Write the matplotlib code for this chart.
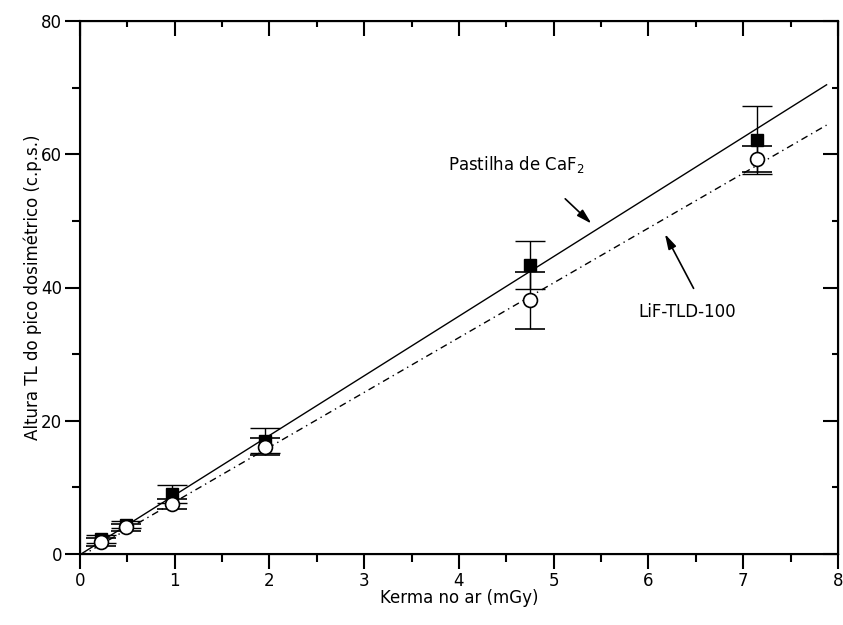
import matplotlib
matplotlib.use("Agg")
import matplotlib.pyplot as plt
import numpy as np
from matplotlib.ticker import MultipleLocator

plt.rcParams['font.family'] = ['DejaVu Sans']

kerma = [0.22, 0.49, 0.97, 1.95, 4.75, 7.15]
caf2 = [2.2, 4.4, 9.0, 17.0, 43.4, 62.1]
caf2_err = [0.6, 0.5, 1.4, 1.9, 3.6, 5.1]
lif = [1.8, 4.0, 7.5, 16.1, 38.1, 59.3]
lif_err = [0.6, 0.5, 0.7, 1.3, 4.3, 2.0]

caf2_fit = (8.95, -0.1)   # slope, intercept
lif_fit = (8.22, -0.4)
fit_x = [0.0, 7.88]

fig = plt.figure(figsize=(8.43, 6.25), dpi=100)
ax = fig.add_axes([0.0949, 0.1136, 0.8991, 0.8528])

fx = np.array(fit_x)
ax.plot(fx, caf2_fit[0] * fx + caf2_fit[1], color='black', lw=1.0, zorder=2)
ax.plot(fx, lif_fit[0] * fx + lif_fit[1], color='black', lw=1.0,
        dashes=(5, 3, 1, 3), zorder=2)

ax.errorbar(kerma, caf2, yerr=caf2_err, fmt='s', color='black', mfc='black',
            mec='black', ms=9, capsize=11, elinewidth=1, capthick=1, zorder=3)
ax.errorbar(kerma, lif, yerr=lif_err, fmt='o', color='black', mfc='white',
            mec='black', ms=10, mew=1.2, capsize=11, elinewidth=1, capthick=1,
            zorder=4)

ax.set_xlim(0, 8)
ax.set_ylim(0, 80)
ax.xaxis.set_major_locator(MultipleLocator(1))
ax.xaxis.set_minor_locator(MultipleLocator(0.5))
ax.yaxis.set_major_locator(MultipleLocator(20))
ax.yaxis.set_minor_locator(MultipleLocator(10))

ax.tick_params(which='both', direction='out', top=False, right=False,
               labelsize=12, width=1.5)
ax.tick_params(which='major', length=11, pad=2)
ax.tick_params(which='minor', length=6)
for s in ax.spines.values():
    s.set_linewidth(1.5)

ax2 = ax.twinx()
ax2.set_ylim(0, 80)
ax2.yaxis.set_major_locator(MultipleLocator(20))
ax2.yaxis.set_minor_locator(MultipleLocator(10))
ax2.tick_params(which='both', direction='in', labelright=False, width=1.5)
ax2.tick_params(which='major', length=11)
ax2.tick_params(which='minor', length=4)
ax3 = ax.twiny()
ax3.set_xlim(0, 8)
ax3.xaxis.set_major_locator(MultipleLocator(1))
ax3.xaxis.set_minor_locator(MultipleLocator(0.5))
ax3.tick_params(which='both', direction='in', labeltop=False, width=1.5)
ax3.tick_params(which='major', length=11)
ax3.tick_params(which='minor', length=4)

ax.set_xlabel('Kerma no ar (mGy)', fontsize=12, labelpad=-1)
ax.set_ylabel('Altura TL do pico dosimétrico (c.p.s.)', fontsize=12, labelpad=-1)

ax.text(3.88, 58.4, r'Pastilha de CaF$_2$', fontsize=12, va='center', ha='left')
ax.annotate('', xy=(5.42, 49.3), xytext=(5.10, 53.6),
            arrowprops=dict(arrowstyle='-|>,head_length=0.9,head_width=0.25',
                            color='black', lw=1.2))
ax.text(5.89, 36.3, 'LiF-TLD-100', fontsize=12, va='center', ha='left')
ax.annotate('', xy=(6.16, 48.4), xytext=(6.49, 39.5),
            arrowprops=dict(arrowstyle='-|>,head_length=0.9,head_width=0.25',
                            color='black', lw=1.2))

fig.savefig('out.png', dpi=100)
